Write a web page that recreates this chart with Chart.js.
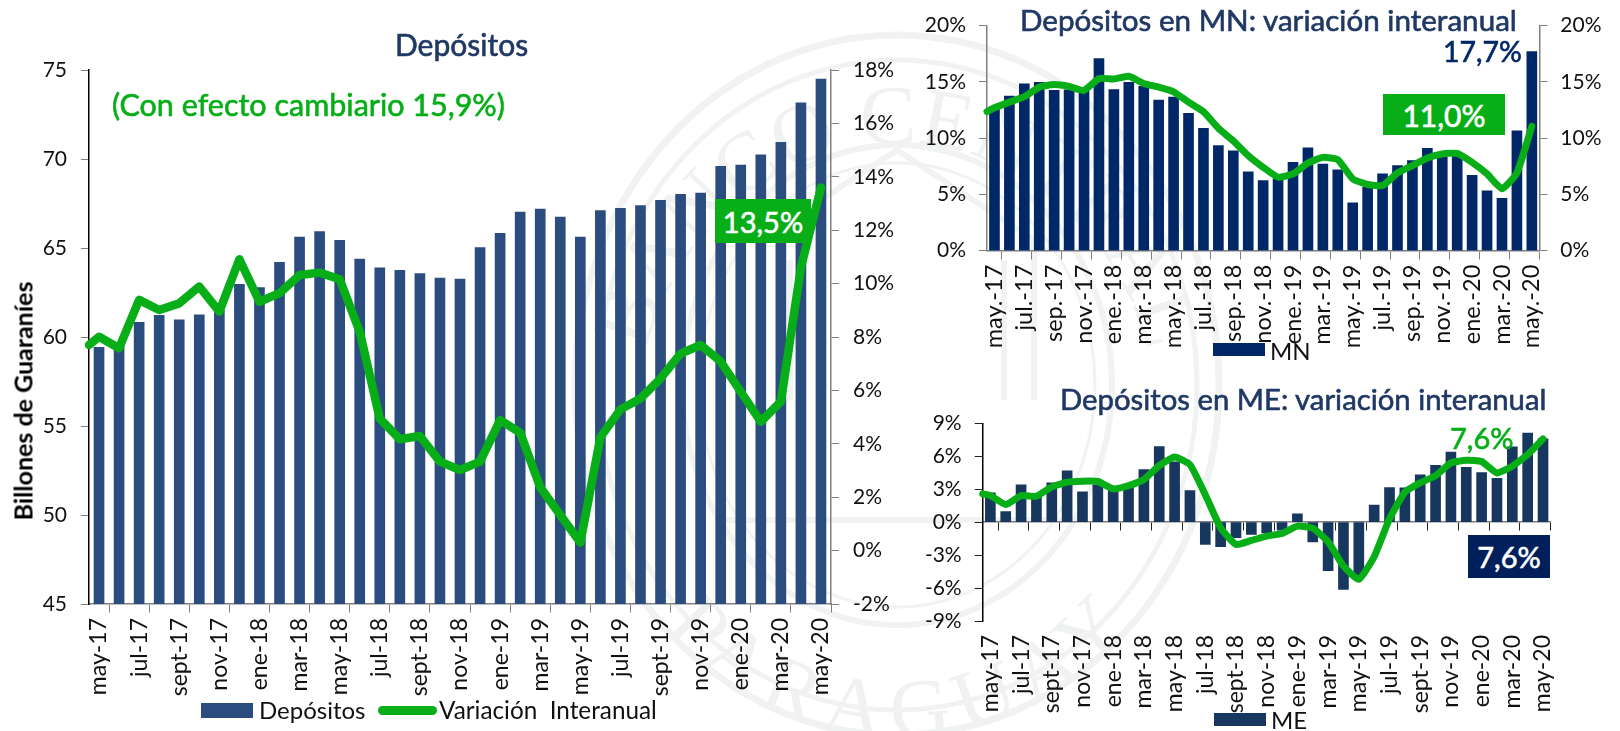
<!DOCTYPE html>
<html lang="es"><head><meta charset="utf-8">
<script src="https://cdn.jsdelivr.net/npm/chart.js@4"></script>
<style>
html,body{margin:0;padding:0;background:#fff;width:1620px;height:731px;overflow:hidden}
body{position:relative;font-family:Lato,"Open Sans",sans-serif}
canvas{position:absolute}
svg{position:absolute;left:0;top:0}
.t{position:absolute;white-space:nowrap;line-height:1}
.m{-webkit-text-stroke:.6px currentColor}
.b{position:absolute;display:flex;align-items:center;justify-content:center;color:#fff}
.r{position:absolute}
</style></head><body>
<svg width="1620" height="731" viewBox="0 0 1620 731" fill="none" stroke="#f0f3f1">
  <ellipse cx="897" cy="385" rx="322" ry="350" stroke-width="7"/>
  <ellipse cx="897" cy="385" rx="300" ry="325" stroke-width="5"/>
  <ellipse cx="897" cy="385" rx="215" ry="240" stroke-width="6"/>
  <ellipse cx="897" cy="385" rx="198" ry="222" stroke-width="3"/>
  <path d="M760 400V240L897 150L1034 240V400M790 400V260M1004 400V260M720 520H1074" stroke-width="6"/>
  <defs><path id="ring" d="M 642 500 A 262 290 0 1 1 1152 500"/><path id="ringb" d="M 640 480 A 268 290 0 0 0 1154 480"/></defs>
  <text font-family="Liberation Serif" font-size="84" fill="#eff2f0" stroke="none"><textPath href="#ring" startOffset="50%" text-anchor="middle">BANCO CENTRAL</textPath></text>
  <text font-family="Liberation Serif" font-size="84" fill="#eff2f0" stroke="none" dy="50"><textPath href="#ringb" startOffset="50%" text-anchor="middle">PARAGUAY</textPath></text>
</svg>
<canvas id="c1" width="960" height="731" style="left:0;top:0"></canvas>
<canvas id="c2" width="700" height="370" style="left:920px;top:0"></canvas>
<canvas id="c3" width="700" height="361" style="left:920px;top:370px"></canvas>

<div class="t m" style="left:395px;top:29px;font-size:30px;color:#1f3864">Depósitos</div>
<div class="t m" style="left:112px;top:89px;font-size:30.5px;color:#07ae17">(Con efecto cambiario 15,9%)</div>
<div class="t" style="left:23px;top:401px;font-size:25px;font-weight:700;color:#000;transform:translate(-50%,-50%) rotate(-90deg)">Billones de Guaraníes</div>
<div class="b m" style="left:715px;top:199px;width:96px;height:44px;background:#07ae17;font-size:29px">13,5%</div>

<div class="r" style="left:201px;top:703px;width:52px;height:15px;background:#2b4c7e"></div>
<div class="t" style="left:259px;top:698px;font-size:24px;color:#111">Depósitos</div>
<div class="r" style="left:378px;top:706px;width:59px;height:9px;border-radius:5px;background:#07ae17"></div>
<div class="t" style="left:439px;top:698px;font-size:24.3px;color:#111;white-space:pre">Variación  Interanual</div>

<div class="t m" style="left:1020px;top:5px;font-size:29.6px;color:#1f3864">Depósitos en MN: variación interanual</div>
<div class="t m" style="left:1443px;top:37px;font-size:28.5px;color:#002868">17,7%</div>
<div class="b m" style="left:1383px;top:94px;width:122px;height:41px;background:#07ae17;font-size:30px">11,0%</div>
<div class="r" style="left:1213px;top:343px;width:52px;height:13px;background:#002868"></div>
<div class="t" style="left:1270px;top:339px;font-size:24px;color:#111">MN</div>

<div class="t m" style="left:1060px;top:384px;font-size:29.3px;color:#1f3864">Depósitos en ME: variación interanual</div>
<div class="t m" style="left:1450px;top:423px;font-size:29px;color:#07ae17">7,6%</div>
<div class="b m" style="left:1468px;top:535px;width:82px;height:43px;background:#011f5b;font-size:29px">7,6%</div>
<div class="r" style="left:1214px;top:713px;width:52px;height:13px;background:#17375e"></div>
<div class="t" style="left:1271px;top:708px;font-size:24px;color:#111">ME</div>

<script>
// ---- Categories ----
const labelsA = ["may-17","jun-17","jul-17","ago-17","sept-17","oct-17","nov-17","dic-17","ene-18","feb-18","mar-18","abr-18","may-18","jun-18","jul-18","ago-18","sept-18","oct-18","nov-18","dic-18","ene-19","feb-19","mar-19","abr-19","may-19","jun-19","jul-19","ago-19","sept-19","oct-19","nov-19","dic-19","ene-20","feb-20","mar-20","abr-20","may-20"];
const labelsMN = ["may.-17","jun.-17","jul.-17","ago.-17","sep.-17","oct.-17","nov.-17","dic.-17","ene.-18","feb.-18","mar.-18","abr.-18","may.-18","jun.-18","jul.-18","ago.-18","sep.-18","oct.-18","nov.-18","dic.-18","ene.-19","feb.-19","mar.-19","abr.-19","may.-19","jun.-19","jul.-19","ago.-19","sep.-19","oct.-19","nov.-19","dic.-19","ene.-20","feb.-20","mar.-20","abr.-20","may.-20"];

// ---- Total deposits ----
const depositos = [59.42,59.6,60.82,61.22,60.96,61.24,61.5,62.96,62.77,64.2,65.62,65.92,65.43,64.38,63.88,63.75,63.56,63.31,63.26,65.02,65.82,67.02,67.19,66.74,65.62,67.1,67.23,67.38,67.68,68.01,68.09,69.59,69.66,70.24,70.93,73.16,74.49];
const variacionLead = 7.7;
const variacion = [8.01,7.58,9.39,9.01,9.26,9.89,8.95,10.91,9.32,9.64,10.32,10.41,10.16,8.2,4.95,4.17,4.29,3.33,3.02,3.33,4.89,4.42,2.37,1.33,0.3,4.24,5.29,5.7,6.45,7.38,7.7,7.08,5.95,4.83,5.58,10.6,13.6];

// ---- MN ----
const barrasMN = [12.8,13.74,14.82,14.97,14.24,14.3,14.2,17.06,14.32,14.97,14.6,13.38,13.65,12.2,10.88,9.35,8.88,7.0,6.24,6.38,7.85,9.15,7.7,7.18,4.26,5.65,6.82,7.56,8.0,9.09,8.3,8.6,6.7,5.32,4.65,10.65,17.7];
const lineaMNLead = 12.35;
const lineaMN = [12.7,13.2,13.68,14.53,14.76,14.59,14.24,15.29,15.26,15.5,14.85,14.53,14.12,13.2,12.35,10.88,9.76,8.44,7.41,6.53,6.82,7.79,8.29,8.09,6.38,5.88,5.79,6.91,7.56,8.24,8.59,8.65,7.85,6.82,5.5,6.91,11.05];

// ---- ME ----
const barrasME = [2.67,0.97,3.39,2.6,3.58,4.67,2.76,3.4,3.0,3.2,4.79,6.88,5.5,2.88,-2.03,-2.24,-1.42,-1.12,-0.97,-0.73,0.76,-1.79,-4.42,-6.12,-4.9,1.55,3.15,3.12,4.3,5.18,6.39,5.0,4.52,4.0,6.85,8.12,7.58];
const lineaMELead = 2.58;
const lineaME = [2.42,1.6,2.42,2.36,3.21,3.64,3.73,3.7,3.03,3.33,3.88,5.15,5.94,5.24,2.5,-0.52,-2.03,-1.67,-1.27,-1.03,-0.36,-0.55,-1.79,-4.0,-5.21,-3.15,0.3,2.73,3.58,4.24,5.39,5.64,5.52,4.48,5.09,6.15,7.58];

// ---- Tick lists ----
const ticksDepositos = [45,50,55,60,65,70,75];
const ticksVariacion = [-2,0,2,4,6,8,10,12,14,16,18];
const ticksMN = [0,5,10,15,20];
const ticksME = [-9,-6,-3,0,3,6,9];

const GREEN = '#07ae17', GRAY = '#808080', FONT = 'Lato';
const pct = v => v + '%';
const xLabel = labels => (v, i) => i % 2 === 0 ? labels[i] : '';
const fixedTicks = list => s => { s.ticks = list.map(v => ({value: v})); };
const barSeries = vals => vals.map((y, i) => ({x: i, y}));
const lineSeries = (lead, vals) => [{x: -0.5, y: lead}].concat(barSeries(vals));
// tick marks sit on the category edges, every second month
const edgeTicks = labelsA.map((_, i) => i - 0.5).filter((_, i) => i % 2 === 0);

function yAxis(pos, min, max, list, width, borderColor, tickColor, cb, pad) {
  return {
    position: pos, min, max,
    afterBuildTicks: fixedTicks(list),
    afterFit: s => { s.width = width; },
    border: {display: true, color: borderColor, width: 1.5},
    grid: {drawOnChartArea: false, drawTicks: true, tickLength: 8, tickColor, tickWidth: 1},
    ticks: {color: '#111', padding: pad, autoSkip: false, font: {family: FONT, size: 21}, callback: cb}
  };
}
function lineDs(data, yID, width, tension) {
  return {type: 'line', data, xAxisID: 'x', yAxisID: yID, order: 0, borderColor: GREEN, borderWidth: width,
    pointRadius: 0, tension, borderJoinStyle: 'round', borderCapStyle: 'round', clip: false};
}
function barDs(data, color, yID) {
  return {type: 'bar', data, xAxisID: 'x', yAxisID: yID, order: 1, backgroundColor: color, barThickness: 10};
}
const base = (top, right) => ({responsive: false, animation: false, events: [],
  layout: {padding: {top, left: 0, right, bottom: 0}},
  plugins: {legend: {display: false}, title: {display: false}, tooltip: {enabled: false}}});
// axis that carries the marks and the tick marks, at a given value of y
function xMarks(yValue, tickColor) {
  return {
    type: 'linear', min: -0.5, max: 36.5, offset: false, position: {y: yValue},
    afterBuildTicks: fixedTicks(edgeTicks),
    border: {display: true, color: GRAY, width: 1.5},
    grid: {drawOnChartArea: false, drawTicks: true, tickLength: 8, tickColor},
    ticks: {display: false}
  };
}
// axis that only carries the month labels
function xLabels(labels, height, pad, size) {
  return {
    type: 'category', offset: true, position: 'bottom',
    afterFit: s => { s.height = height; },
    border: {display: false},
    grid: {display: false, drawTicks: false},
    ticks: {autoSkip: false, maxRotation: 90, minRotation: 90, padding: pad, color: '#111',
      font: {family: FONT, size}, callback: xLabel(labels)}
  };
}

new Chart(document.getElementById('c1'), {
  data: {labels: labelsA, datasets: [
    lineDs(lineSeries(variacionLead, variacion), 'y2', 8.5, 0),
    barDs(barSeries(depositos), '#2b4c7e', 'y')
  ]},
  options: Object.assign(base(70, 0), {scales: {
    x: xMarks(45, GRAY), xb: xLabels(labelsA, 127, 14, 23),
    y: yAxis('left', 45, 75, ticksDepositos, 89, '#000', GRAY, v => v, 14),
    y2: yAxis('right', -2, 18, ticksVariacion, 129, GRAY, GRAY, pct, 14)
  }})
});

new Chart(document.getElementById('c2'), {
  data: {labels: labelsMN, datasets: [
    lineDs(lineSeries(lineaMNLead, lineaMN), 'y', 7, 0.15),
    barDs(barSeries(barrasMN), '#002868', 'y')
  ]},
  options: Object.assign(base(24, 0), {scales: {
    x: xMarks(0, GRAY), xb: xLabels(labelsMN, 119.3, 14, 23.5),
    y: yAxis('left', 0, 20, ticksMN, 67, GRAY, GRAY, pct, 13),
    y2: yAxis('right', 0, 20, ticksMN, 80.7, GRAY, GRAY, pct, 13)
  }})
});

new Chart(document.getElementById('c3'), {
  data: {labels: labelsA, datasets: [
    lineDs(lineSeries(lineaMELead, lineaME), 'y', 7, 0.15),
    barDs(barSeries(barrasME), '#17375e', 'y')
  ]},
  options: Object.assign(base(53.3, 69.3), {scales: {
    x: xMarks(0, '#222'), xb: xLabels(labelsA, 110, 14, 23),
    y: yAxis('left', -9, 9, ticksME, 62.7, '#000', '#222', pct, 13)
  }})
});
</script>
</body></html>
